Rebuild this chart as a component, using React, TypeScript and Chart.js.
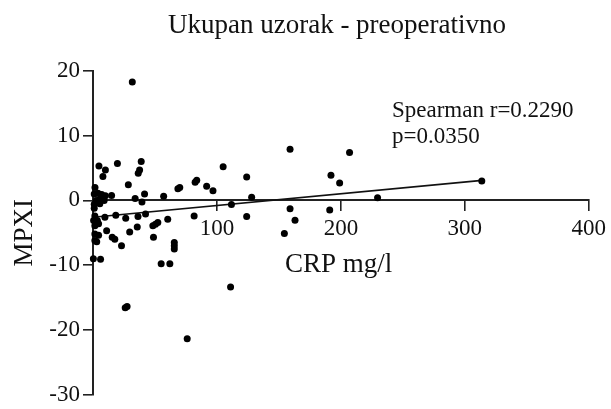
import React, { useEffect, useRef } from 'react';
import { Chart, registerables } from 'chart.js';

Chart.register(...registerables);

const titleText = 'Ukupan uzorak - preoperativno';
const xLabel = 'CRP mg/l';
const yLabel = 'MPXI';
const statLines = ['Spearman r=0.2290', 'p=0.0350'];

const xMin = 0;
const xMax = 400;
const xStep = 100;
const yMin = -30;
const yMax = 20;
const yStep = 10;

// CRP (mg/l) values of each patient
const crpValues = [
  31.7, 4.8, 10, 8, 19.7, 38.9, 37.6, 36.5, 28.5, 1.6,
  34, 41.6, 39.5, 57, 68.5, 70, 82.4, 83.7, 91.7, 96.8,
  105, 124, 128, 111.7, 124, 159, 207, 192, 199, 229.6,
  159, 191, 163, 154.4, 81.6, 313.7,
  1, 4, 7, 10, 15, 5.5, 2.5, 9, 5.5, 1,
  1, 1.5, 0.5, 3.5, 1.5, 4.5, 1.5, 4.5, 1.5, 3, 0.3, 6.1,
  9.6, 18.4, 26.4, 36.3, 42.4, 60.3, 29.6, 35.7, 48.3, 50.4,
  52.3, 11, 15.5, 17.6, 23, 48.8, 65.6, 65.6, 65.6, 55,
  62, 111, 26, 27.5, 76,
];

// MPXI values of each patient
const mpxiValues = [
  18.3, 5.3, 4.7, 3.7, 5.7, 6.0, 4.7, 4.2, 2.4, 2.0,
  0.3, 1.0, -0.25, 0.65, 1.8, 2.0, 2.8, 3.1, 2.2, 1.5,
  5.2, 3.6, 0.5, -0.65, -2.5, 7.9, 7.4, 3.9, 2.7, 0.4,
  -1.3, -1.5, -3.05, -5.1, -2.4, 3.0,
  1.0, 1.1, 0.9, 0.7, 0.75, 0.2, 0.0, 0.0, -0.5, -0.6,
  -1.2, -2.4, -3.1, -3.1, -3.9, -3.6, -5.2, -5.4, -6.2, -6.4, -9.0, -9.1,
  -2.6, -2.3, -2.75, -2.5, -2.1, -2.9, -4.9, -4.1, -3.9, -3.7,
  -3.4, -4.7, -5.7, -6.0, -7.0, -5.7, -6.5, -7.0, -7.5, -9.8,
  -9.8, -13.4, -16.6, -16.4, -21.4,
];

// Regression line end points
const fitX = [0, 314];
const fitY = [-2.6, 3.1];

const FONT = '"Liberation Serif", "Times New Roman", serif';

const textPlugin = {
  id: 'textPlugin',
  afterDraw(chart: any) {
    const ctx = chart.ctx;
    ctx.save();
    ctx.fillStyle = '#111';
    ctx.textBaseline = 'alphabetic';
    ctx.font = `27px ${FONT}`;
    ctx.textAlign = 'center';
    ctx.fillText(titleText, 337, 33);
    ctx.textAlign = 'left';
    ctx.font = `27px ${FONT}`;
    ctx.fillText(xLabel, 285, 272);
    ctx.font = `23px ${FONT}`;
    ctx.fillText(statLines[0], 392, 117);
    ctx.fillText(statLines[1], 392, 143);
    ctx.restore();
  },
};

export default function App() {
  const ref = useRef<HTMLCanvasElement | null>(null);

  useEffect(() => {
    if (!ref.current) return;
    const points = crpValues.map((x, i) => ({ x, y: mpxiValues[i] }));
    const fit = fitX.map((x, i) => ({ x, y: fitY[i] }));
    const chart = new Chart(ref.current, {
      type: 'scatter',
      data: {
        datasets: [
          {
            data: points,
            pointRadius: 3.5,
            pointHoverRadius: 3.5,
            backgroundColor: '#000',
            borderWidth: 0,
            order: 0,
            clip: false,
          } as any,
          {
            data: fit,
            showLine: true,
            pointRadius: 0,
            borderColor: '#111',
            borderWidth: 1.6,
            order: 1,
            clip: false,
          } as any,
        ],
      },
      options: {
        animation: false,
        responsive: false,
        layout: { padding: { top: 71, bottom: 12, right: 20, left: 0 } },
        plugins: {
          legend: { display: false },
          tooltip: { enabled: false },
          title: { display: false },
        },
        scales: {
          x: {
            type: 'linear',
            min: xMin,
            max: xMax,
            position: { y: 0 } as any,
            border: { display: true, color: '#222', width: 2 },
            grid: {
              drawOnChartArea: false,
              drawTicks: true,
              tickLength: 10,
              color: '#222',
              lineWidth: 1.6,
            },
            ticks: {
              stepSize: xStep,
              color: '#111',
              padding: 5,
              font: { family: FONT, size: 23, lineHeight: 1.2 },
              maxRotation: 0,
              callback: (v: any) => (v === 0 ? '' : String(v)),
            },
          },
          y: {
            type: 'linear',
            min: yMin,
            max: yMax,
            position: 'left',
            border: { display: true, color: '#222', width: 2 },
            grid: {
              drawOnChartArea: false,
              drawTicks: true,
              tickLength: 10,
              color: '#222',
              lineWidth: 1.6,
            },
            ticks: {
              stepSize: yStep,
              color: '#111',
              padding: 3,
              font: { family: FONT, size: 23, lineHeight: 1 },
            },
            title: {
              display: true,
              text: yLabel,
              color: '#111',
              font: { family: FONT, size: 27, lineHeight: 1.2 },
              padding: { top: 9, bottom: 0 },
            },
            afterFit: (scale: any) => {
              scale.width = 93;
            },
          },
        },
      },
      plugins: [textPlugin],
    });
    return () => chart.destroy();
  }, []);

  return (
    <div style={{ position: 'fixed', left: 0, top: 0, width: 611, height: 409, background: '#fff' }}>
      <canvas ref={ref} width={611} height={409} style={{ display: 'block', width: 611, height: 409 }} />
    </div>
  );
}
